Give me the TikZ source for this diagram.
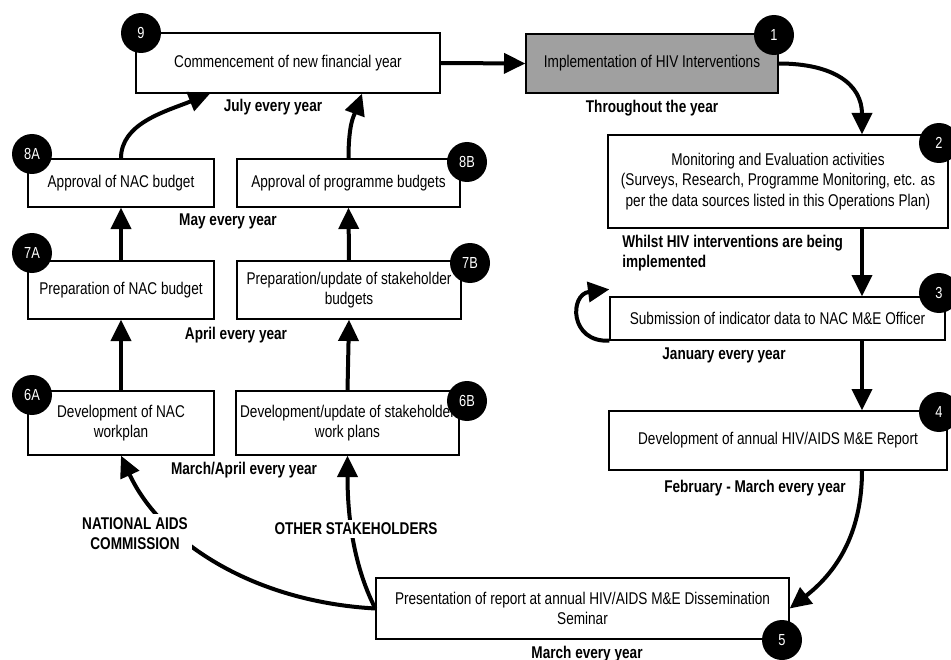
\documentclass[tikz,border=0pt]{standalone}
\usepackage{fontspec}
\setmainfont{Liberation Sans}[FakeStretch=0.8]
\usetikzlibrary{arrows.meta,calc}
\tikzset{
        box/.style = {draw, rectangle, line width=1pt,
            align=center, inner sep=2pt,
            font=\fontsize{12.75}{15.5}\selectfont},
        numdot/.style = {circle, fill=black, text=white,
            minimum size=30pt, inner sep=0pt,
            font=\fontsize{12}{14}\selectfont},
        lbl/.style = {inner sep=0pt, align=center,
            font=\bfseries\fontsize{12.75}{15}\selectfont},
        arrow/.style = {draw, line width=3pt, -{Triangle[length=16pt,width=15pt]}},
    }
\definecolor{implgray}{RGB}{160,160,160}

\begin{document}
\begin{tikzpicture}[x=0.75pt,y=0.75pt,yscale=-1,xscale=1]
\useasboundingbox (0,0) rectangle (951,660);

% Boxes, right hand cycle
\node[box, minimum width=228pt, minimum height=45pt] (commence) at (288,63) {Commencement of new financial year};
\node[box, fill=implgray, minimum width=189pt, minimum height=44.25pt] (implement) at (652,63.5) {Implementation of HIV Interventions};
\node[box, minimum width=255pt, minimum height=69.75pt] (monitor) at (778,181.5) {Monitoring and Evaluation activities\\(Surveys, Research, Programme Monitoring, etc. as\\per the data sources listed in this Operations Plan)};
\node[box, minimum width=251.25pt, minimum height=32.25pt] (submit) at (777.5,318.5) {Submission of indicator data to NAC M\&E Officer};
\node[box, minimum width=253.5pt, minimum height=44.25pt] (report) at (778,440.5) {Development of annual HIV/AIDS M\&E Report};
\node[box, minimum width=309.75pt, minimum height=45.75pt] (present) at (582.5,608.5) {Presentation of report at annual HIV/AIDS M\&E Dissemination\\Seminar};

% Boxes, budget columns
\node[box, minimum width=139.5pt, minimum height=36pt] (apprNAC) at (121,183) {Approval of NAC budget};
\node[box, minimum width=167.25pt, minimum height=36pt] (apprPB) at (348.5,183) {Approval of programme budgets};
\node[box, minimum width=139.5pt, minimum height=43.5pt] (prepNAC) at (121,290) {Preparation of NAC budget};
\node[box, minimum width=168pt, minimum height=43.5pt] (prepSH) at (349,290) {Preparation/update of stakeholder\\budgets};
\node[box, minimum width=139.5pt, minimum height=48pt] (devNAC) at (121,423) {Development of NAC\\workplan};
\node[box, minimum width=167.25pt, minimum height=48pt] (devSH) at (347.5,423) {Development/update of stakeholder\\work plans};

% Step numbers
\node[numdot] (n9) at (141,33) {9};
\node[numdot] (n1) at (774,35) {1};
\node[numdot] (n2) at (939,143) {2};
\node[numdot] (n3) at (939,293) {3};
\node[numdot] (n4) at (939,412) {4};
\node[numdot] (n5) at (782,640) {5};
\node[numdot] (n8A) at (32,154) {8A};
\node[numdot] (n8B) at (467,162) {8B};
\node[numdot] (n7A) at (32,253) {7A};
\node[numdot] (n7B) at (470,263) {7B};
\node[numdot] (n6A) at (32,395) {6A};
\node[numdot] (n6B) at (467,401) {6B};

% Connectors
\coordinate (rcol) at (862,0);
\draw[arrow] (commence.east) -- (implement.west);
\draw[arrow] (implement.east) .. controls +(55,0) and +(0,-50) .. (monitor.north -| rcol);
\draw[arrow] (monitor.south -| rcol) -- (submit.north -| rcol);
\draw[arrow] (submit.south west) .. controls +(-40,2) and +(-40,5) .. ($(submit.north west)+(0,-7)$);
\draw[arrow] (submit.south -| rcol) -- (report.north -| rcol);
\draw[arrow] (report.south -| rcol) .. controls +(0,65) and +(45,-35) .. (present.east);
\draw[arrow] (present.west) .. controls +(-126,-7) and +(38,83) .. (devNAC.south);
\draw[arrow] (present.west) .. controls +(-24,-47) and +(0,53) .. (devSH.south);
\draw[arrow] (devNAC.north) -- (prepNAC.south);
\draw[arrow] (prepNAC.north) -- (apprNAC.south);
\draw[arrow] (devSH.north) -- (prepSH.south);
\draw[arrow] (prepSH.north) -- (apprPB.south);
\draw[arrow] (apprNAC.north) .. controls +(0,-35) and +(-45,18) .. ($(commence.south)+(-78,0)$);
\draw[arrow] (apprPB.north) .. controls +(0,-35) and +(-8,22) .. ($(commence.south)+(74,0)$);

% Timing labels
\node[lbl] (july) at (273,107) {July every year};
\node[lbl] (through) at (652,108) {Throughout the year};
\node[lbl, anchor=west, align=left] (whilst) at (622,253) {Whilst HIV interventions are being\\ implemented};
\node[lbl] (jan) at (724,355) {January every year};
\node[lbl] (febmar) at (755,488) {February - March every year};
\node[lbl] (march) at (587,654) {March every year};
\node[lbl] (may) at (228,221) {May every year};
\node[lbl] (april) at (236,335) {April every year};
\node[lbl] (marapr) at (244,470) {March/April every year};
\node[lbl, fill=white, inner sep=3pt] (nac) at (135,534) {NATIONAL AIDS\\COMMISSION};
\node[lbl, fill=white, inner sep=2pt] (others) at (356,529) {OTHER STAKEHOLDERS};

\end{tikzpicture}
\end{document}
